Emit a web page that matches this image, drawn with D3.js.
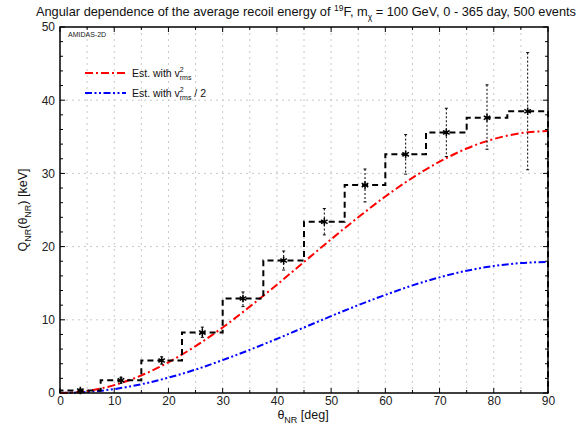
<!DOCTYPE html>
<html>
<head>
<meta charset="utf-8">
<script src="https://cdn.jsdelivr.net/npm/d3@7"></script>
<style>
  body { margin: 0; background: #fff; }
  svg { display: block; font-family: "Liberation Sans", Arial, Helvetica, sans-serif; }
</style>
</head>
<body>
<svg id="chart" width="582" height="432"></svg>
<script>
// Reconstructed recoil-energy histogram (bin edges in degrees)
const binEdges = [0, 7.5, 15, 22.5, 30, 37.5, 45, 52.5, 60, 67.5, 75, 82.5, 90];
const binValues = [0.35, 1.75, 4.45, 8.25, 12.9, 18.1, 23.4, 28.4, 32.6, 35.6, 37.6, 38.5];
const errHigh = [0.55, 2.15, 4.95, 9.0, 13.8, 19.4, 25.2, 30.6, 35.3, 38.9, 42.1, 46.5];
const errLow  = [0.15, 1.35, 3.95, 7.6, 11.8, 16.8, 21.6, 26.1, 29.9, 32.3, 33.3, 30.5];

// Estimated curves sampled every 5 degrees
const thetaSamples = [0, 5, 10, 15, 20, 25, 30, 35, 40, 45, 50, 55, 60, 65, 70, 75, 80, 85, 90];
const estFull = [0, 0.27, 1.08, 2.4, 4.2, 6.4, 8.95, 11.8, 14.8, 17.9, 21.0, 24.0, 26.85, 29.4, 31.6, 33.4, 34.7, 35.5, 35.8];
const estHalf = [0, 0.14, 0.54, 1.2, 2.1, 3.2, 4.5, 5.9, 7.4, 8.95, 10.5, 12.0, 13.4, 14.7, 15.8, 16.7, 17.35, 17.75, 17.9];

const xTicks = [0, 10, 20, 30, 40, 50, 60, 70, 80, 90];
const yTicks = [0, 10, 20, 30, 40, 50];

const svg = d3.select("#chart");
const m = { left: 60, right: 548, top: 27, bottom: 393 };
const x = d3.scaleLinear().domain([0, 90]).range([m.left, m.right]);
const y = d3.scaleLinear().domain([0, 50]).range([m.bottom, m.top]);

// Grid
const grid = svg.append("g").attr("stroke", "#c8c8c8").attr("stroke-width", 1).attr("stroke-dasharray", "2,4");
d3.range(5, 90, 5).forEach(v => {
  grid.append("line").attr("x1", x(v)).attr("x2", x(v)).attr("y1", m.top).attr("y2", m.bottom);
});
[10, 20, 30, 40].forEach(v => {
  grid.append("line").attr("x1", m.left).attr("x2", m.right).attr("y1", y(v)).attr("y2", y(v));
});

// Axes (mirrored on all four sides)
const fmt = d3.format("d");
const xb = svg.append("g").attr("transform", `translate(0,${m.bottom})`)
  .call(d3.axisBottom(x).tickValues(xTicks).tickSize(0).tickPadding(3).tickFormat(fmt));
const yl = svg.append("g").attr("transform", `translate(${m.left},0)`)
  .call(d3.axisLeft(y).tickValues(yTicks).tickSize(0).tickPadding(5).tickFormat(fmt));
[xb, yl].forEach(g => {
  g.select(".domain").remove();
  g.selectAll("text").attr("font-size", 12).attr("fill", "#222")
    .attr("font-family", "Liberation Sans, Arial, sans-serif");
});

const ticks = svg.append("g").attr("stroke", "#000").attr("stroke-width", 1);
d3.range(0, 91, 5).forEach(v => {
  const len = v % 10 === 0 ? 5 : 3;
  ticks.append("line").attr("x1", x(v)).attr("x2", x(v)).attr("y1", m.bottom).attr("y2", m.bottom - len);
  ticks.append("line").attr("x1", x(v)).attr("x2", x(v)).attr("y1", m.top).attr("y2", m.top + len);
});
d3.range(0, 51, 2).forEach(v => {
  const len = v % 10 === 0 ? 5 : 3;
  ticks.append("line").attr("x1", m.left).attr("x2", m.left + len).attr("y1", y(v)).attr("y2", y(v));
  ticks.append("line").attr("x1", m.right).attr("x2", m.right - len).attr("y1", y(v)).attr("y2", y(v));
});

// Curves
const line = d3.line().x(d => x(d[0])).y(d => y(d[1])).curve(d3.curveMonotoneX);
svg.append("path").datum(thetaSamples.map((t, i) => [t, estHalf[i]]))
  .attr("d", line).attr("fill", "none").attr("stroke", "#0000ff").attr("stroke-width", 2)
  .attr("stroke-dasharray", "7,2.5,2,2.5,2,2.5");
svg.append("path").datum(thetaSamples.map((t, i) => [t, estFull[i]]))
  .attr("d", line).attr("fill", "none").attr("stroke", "#ff0000").attr("stroke-width", 2)
  .attr("stroke-dasharray", "8,3,2,3");

// Error bars
const centers = binValues.map((v, i) => (binEdges[i] + binEdges[i + 1]) / 2);
const eb = svg.append("g").attr("stroke", "#000").attr("stroke-width", 1);
centers.forEach((c, i) => {
  eb.append("line").attr("x1", x(c)).attr("x2", x(c)).attr("y1", y(errHigh[i])).attr("y2", y(errLow[i]))
    .attr("stroke-dasharray", "2,2");
  [errHigh[i], errLow[i]].forEach(v => {
    eb.append("line").attr("x1", x(c) - 1.5).attr("x2", x(c) + 1.5).attr("y1", y(v)).attr("y2", y(v));
  });
});

// Histogram steps
const steps = [[binEdges[0], 0]];
binValues.forEach((v, i) => { steps.push([binEdges[i], v]); steps.push([binEdges[i + 1], v]); });
steps.push([binEdges[binEdges.length - 1], 0]);
svg.append("path").datum(steps)
  .attr("d", d3.line().x(d => x(d[0])).y(d => y(d[1])))
  .attr("fill", "none").attr("stroke", "#000").attr("stroke-width", 2)
  .attr("stroke-dasharray", "6,4");

// Markers
const star = d3.symbol().type(d3.symbolAsterisk).size(40);
svg.append("g").selectAll("path").data(binValues).join("path")
  .attr("d", star)
  .attr("transform", (d, i) => `translate(${x(centers[i])},${y(d)})`)
  .attr("fill", "none").attr("stroke", "#000").attr("stroke-width", 1.5);

// Frame
svg.append("rect").attr("x", m.left).attr("y", m.top).attr("width", m.right - m.left).attr("height", m.bottom - m.top)
  .attr("fill", "none").attr("stroke", "#000").attr("stroke-width", 1.5);

// Labels
svg.append("text").attr("x", 68).attr("y", 37).attr("font-size", 7).attr("fill", "#222").text("AMIDAS-2D");

const title = svg.append("text").attr("x", 306).attr("y", 16).attr("text-anchor", "middle")
  .attr("font-size", 12.8).attr("fill", "#111");
title.append("tspan").text("Angular dependence of the average recoil energy of ");
title.append("tspan").attr("font-size", 8.5).attr("dy", -5).text("19");
title.append("tspan").attr("dy", 5).text("F, m");
title.append("tspan").attr("font-size", 8.5).attr("dy", 4).text("χ");
title.append("tspan").attr("dy", -4).text(" = 100 GeV, 0 - 365 day, 500 events");

const xl = svg.append("text").attr("x", 303).attr("y", 419).attr("text-anchor", "middle")
  .attr("font-size", 12.5).attr("fill", "#111");
xl.append("tspan").text("θ");
xl.append("tspan").attr("font-size", 9).attr("dy", 4).text("NR");
xl.append("tspan").attr("dy", -4).text(" [deg]");

const ylab = svg.append("text").attr("transform", "translate(27,210) rotate(-90)").attr("text-anchor", "middle")
  .attr("font-size", 12.5).attr("fill", "#111");
ylab.append("tspan").text("Q");
ylab.append("tspan").attr("font-size", 9).attr("dy", 4).text("NR");
ylab.append("tspan").attr("dy", -4).text("(θ");
ylab.append("tspan").attr("font-size", 9).attr("dy", 4).text("NR");
ylab.append("tspan").attr("dy", -4).text(") [keV]");

// Legend
const legend = [
  { color: "#ff0000", dash: "8,3,2,3", y: 73, suffix: "" },
  { color: "#0000ff", dash: "7,2.5,2,2.5,2,2.5", y: 93, suffix: " / 2" }
];
legend.forEach(l => {
  svg.append("line").attr("x1", x(0) + 25).attr("x2", x(0) + 66).attr("y1", l.y).attr("y2", l.y)
    .attr("stroke", l.color).attr("stroke-width", 2).attr("stroke-dasharray", l.dash);
  const t = svg.append("text").attr("x", 132).attr("y", l.y + 4).attr("font-size", 10.5).attr("fill", "#111");
  t.append("tspan").text("Est. with v");
  t.append("tspan").attr("font-size", 7).attr("dy", -5).text("2");
  t.append("tspan").attr("font-size", 7).attr("dx", -4).attr("dy", 8).text("rms");
  t.append("tspan").attr("dy", -3).text(l.suffix);
});
</script>
</body>
</html>
